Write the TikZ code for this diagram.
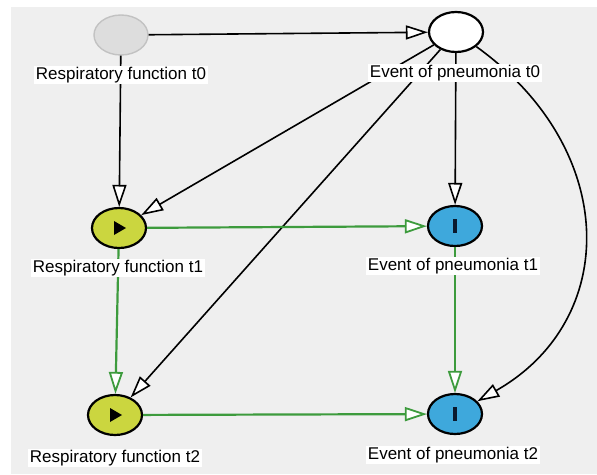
\documentclass[tikz,border=0pt]{standalone}
\usepackage{fontspec}
\setmainfont{Liberation Sans}
\usetikzlibrary{shapes.geometric,arrows.meta}
\definecolor{panel}{HTML}{EFEFEF}
\definecolor{greenedge}{HTML}{3D9B3D}
\definecolor{rfyellow}{HTML}{CBD63F}
\definecolor{epblue}{HTML}{3EA8DC}
\definecolor{ghostfill}{HTML}{DDDDDD}
\definecolor{ghostline}{HTML}{C2C2C2}
\definecolor{barcol}{HTML}{0B1A2E}
\tikzset{
  varnode/.style={ellipse, minimum width=54pt, minimum height=40pt, inner sep=0pt, line width=2.2pt, draw=black},
  ghost/.style={varnode, fill=ghostfill, draw=ghostline, line width=1.4pt},
  latent/.style={varnode, fill=white},
  exposure/.style={varnode, fill=rfyellow},
  outcome/.style={varnode, fill=epblue},
  lbl/.style={fill=white, inner xsep=2pt, inner ysep=1.5pt, font=\fontsize{17}{19}\selectfont, text=black},
  blackedge/.style={draw=black, line width=1.6pt, -{Triangle[length=22pt,width=14pt,fill=white,line width=1.6pt]}},
  greenarrow/.style={draw=greenedge, line width=2.2pt, -{Triangle[length=22pt,width=14pt,fill=white,line width=1.8pt]}},
}
\begin{document}
\begin{tikzpicture}[x=1pt,y=-1pt]
\useasboundingbox (0,0) rectangle (597,474);
\fill[panel] (11,7) rectangle (597,474);
% nodes
\node[ghost]    (rf0) at (121,35)  {};
\node[latent]   (ep0) at (456,32)  {};
\node[exposure] (rf1) at (119,228) {};
\node[outcome]  (ep1) at (455,226) {};
\node[exposure] (rf2) at (115,415) {};
\node[outcome]  (ep2) at (455,414) {};
% icons
\fill[black] (rf1.center) ++(-5,-7) -- ++(12,7) -- ++(-12,7) -- cycle;
\fill[black] (rf2.center) ++(-5,-7) -- ++(12,7) -- ++(-12,7) -- cycle;
\fill[barcol] (ep1.center) ++(-2,-7) rectangle ++(4,14);
\fill[barcol] (ep2.center) ++(-2,-7) rectangle ++(4,14);
% black edges
\draw[blackedge] (rf0) -- (ep0);
\draw[blackedge] (rf0) -- (rf1);
\draw[blackedge] (ep0) -- (rf1);
\draw[blackedge] (ep0) -- (ep1);
\draw[blackedge] (ep0) -- (rf2);
\draw[blackedge] (ep0) .. controls (620,150) and (620,320) .. (ep2);
% green edges
\draw[greenarrow] (rf1) -- (ep1);
\draw[greenarrow] (rf1) -- (rf2);
\draw[greenarrow] (ep1) -- (ep2);
\draw[greenarrow] (rf2) -- (ep2);
% labels
\node[lbl] (lrf0) at (121,75)  {Respiratory function t0};
\node[lbl] (lep0) at (455,73)  {Event of pneumonia t0};
\node[lbl] (lrf1) at (118,268) {Respiratory function t1};
\node[lbl] (lep1) at (453,266) {Event of pneumonia t1};
\node[lbl] (lrf2) at (115,458) {Respiratory function t2};
\node[lbl] (lep2) at (453,455) {Event of pneumonia t2};
\end{tikzpicture}
\end{document}
